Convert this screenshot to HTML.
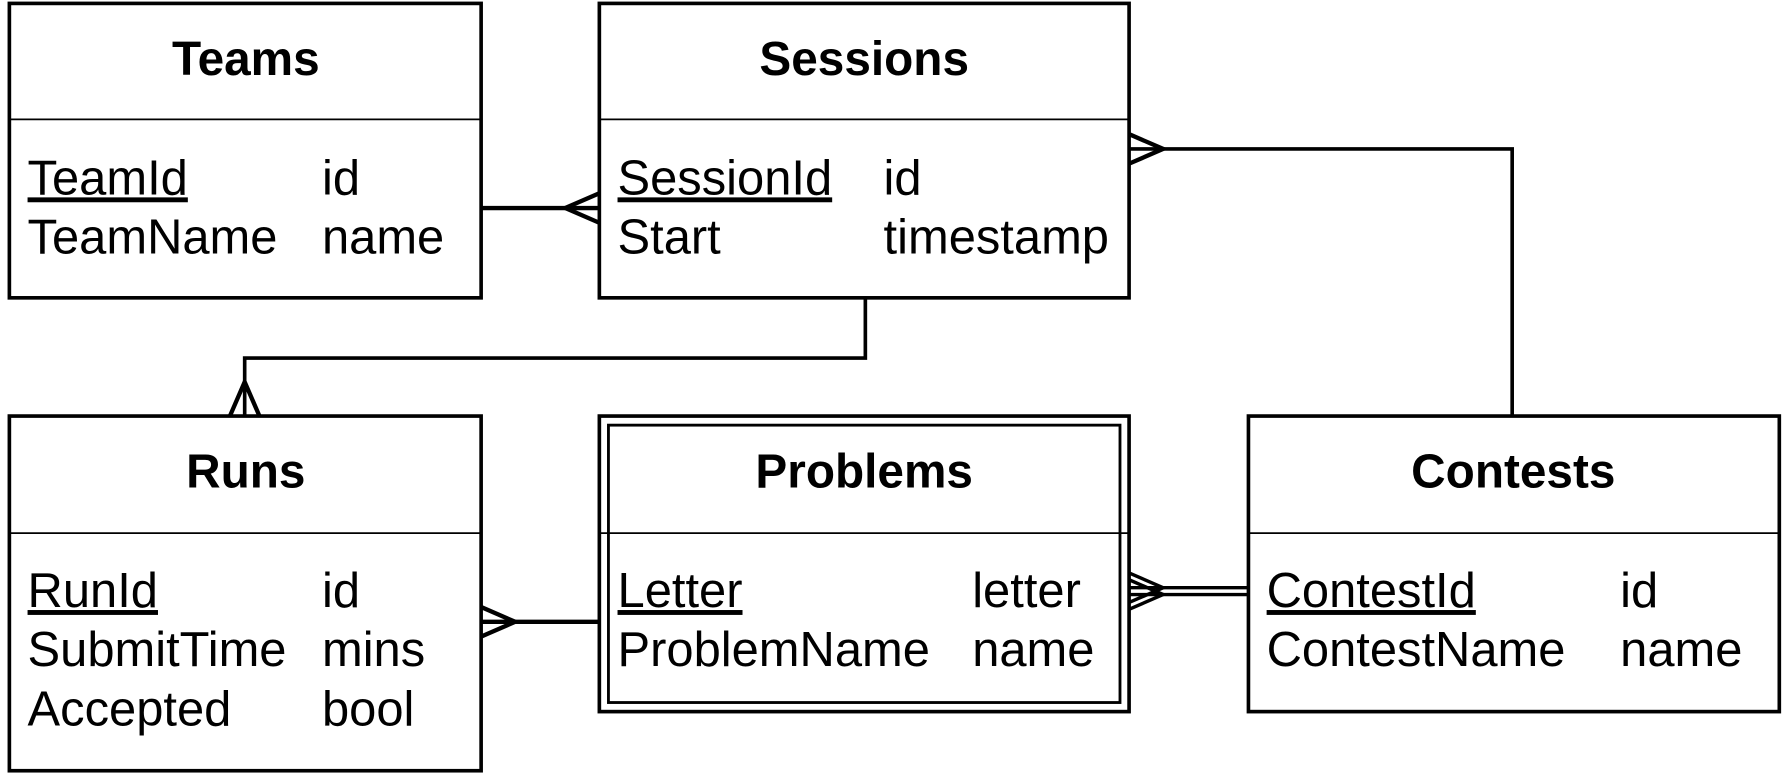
<!DOCTYPE html>
<html><head><style>
html,body{margin:0;padding:0;background:#fff;}
svg{display:block;}
text{font-family:"Liberation Sans",Arial,sans-serif;font-size:43px;fill:#000;}
.t{font-weight:bold;text-anchor:middle;font-size:42px;}
</style></head><body>
<svg width="1783" height="773" viewBox="0 0 1568 680" xmlns="http://www.w3.org/2000/svg">
<g fill="none" stroke="#000" stroke-width="3.2">
<rect x="8" y="3" width="415" height="259"/><line x1="8" y1="105" x2="423" y2="105" stroke-width="1.5"/>
<rect x="527" y="3" width="466" height="259"/><line x1="527" y1="105" x2="993" y2="105" stroke-width="1.5"/>
<rect x="8" y="366" width="415" height="312"/><line x1="8" y1="469" x2="423" y2="469" stroke-width="1.5"/>
<rect x="527" y="366" width="466" height="260"/><rect x="535" y="374" width="450" height="244" stroke-width="2.5"/><line x1="527" y1="469" x2="993" y2="469" stroke-width="1.5"/>
<rect x="1098" y="366" width="467" height="260"/><line x1="1098" y1="469" x2="1565" y2="469" stroke-width="1.5"/>
</g>
<g fill="none" stroke="#000" stroke-width="3.8">
<line x1="423" y1="183" x2="527" y2="183"/>
<polyline points="527,170 497,183 527,196"/>
<polyline points="993,131 1330,131 1330,366" stroke-width="3.2"/>
<polyline points="993,118 1023,131 993,144"/>
<polyline points="761,262 761,315 215,315 215,366" stroke-width="3.2"/>
<polyline points="202,366 215,336 228,366"/>
<line x1="423" y1="547" x2="527" y2="547"/>
<polyline points="423,534 453,547 423,560"/>
<line x1="993" y1="517" x2="1098" y2="517" stroke-width="3"/>
<line x1="993" y1="523" x2="1098" y2="523" stroke-width="3"/>
<polyline points="993,504 1023,517 993,530" stroke-width="3"/>
<polyline points="993,510 1023,523 993,536" stroke-width="3"/>
</g>
<text class="t" x="216" y="66">Teams</text>
<text x="24" y="171" text-decoration="underline">TeamId</text><text x="283" y="171">id</text>
<text x="24" y="223">TeamName</text><text x="283" y="223">name</text>
<text class="t" x="760" y="66">Sessions</text>
<text x="543" y="171" text-decoration="underline">SessionId</text><text x="777" y="171">id</text>
<text x="543" y="223">Start</text><text x="777" y="223">timestamp</text>
<text class="t" x="216" y="429">Runs</text>
<text x="24" y="534" text-decoration="underline">RunId</text><text x="283" y="534">id</text>
<text x="24" y="586">SubmitTime</text><text x="283" y="586">mins</text>
<text x="24" y="638">Accepted</text><text x="283" y="638">bool</text>
<text class="t" x="760" y="429">Problems</text>
<text x="543" y="534" text-decoration="underline">Letter</text><text x="855" y="534">letter</text>
<text x="543" y="586">ProblemName</text><text x="855" y="586">name</text>
<text class="t" x="1331" y="429">Contests</text>
<text x="1114" y="534" text-decoration="underline">ContestId</text><text x="1425" y="534">id</text>
<text x="1114" y="586">ContestName</text><text x="1425" y="586">name</text>
</svg>
</body></html>
